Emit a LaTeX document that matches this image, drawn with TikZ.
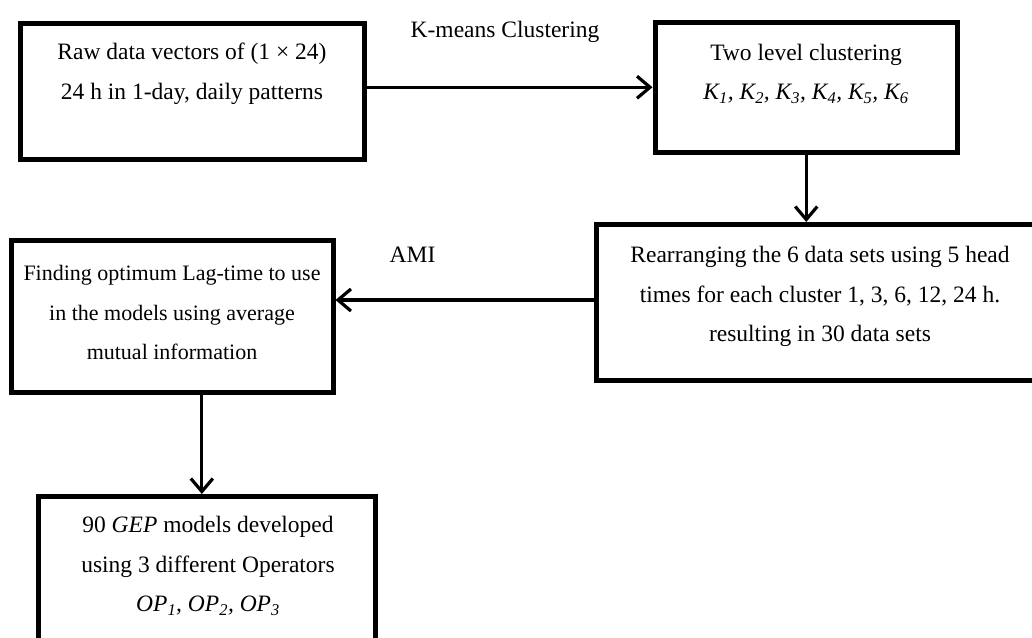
\documentclass[tikz,border=0pt]{standalone}
\usepackage{fontspec}
\setmainfont{Liberation Serif}
\usetikzlibrary{arrows.meta}
\tikzset{
  box/.style={draw=black, line width=5pt, rectangle, inner sep=0pt},
  txt/.style={align=center, font=\fontsize{23.5}{39.5}\selectfont, inner sep=0pt},
  txtsmall/.style={align=center, font=\fontsize{22}{39.5}\selectfont, inner sep=0pt},
  lbl/.style={font=\fontsize{23.5}{28}\selectfont, inner sep=0pt},
  arr/.style={line width=3.2pt, -{Straight Barb[length=13pt,width=22pt,line width=3.2pt]}}
}
\begin{document}
\begin{tikzpicture}[x=1pt,y=-1pt]
\useasboundingbox (0,0) rectangle (1032,637);
\clip (0,0) rectangle (1032,637);
% boxes
\node[box, minimum width=344pt, minimum height=136pt] (b1) at (192,91) {};
\node[box, minimum width=302.5pt, minimum height=129.5pt] (b2) at (806.25,87.25) {};
\node[box, minimum width=443.5pt, minimum height=156pt] (b3) at (818.25,302.5) {};
\node[box, minimum width=322pt, minimum height=152pt] (b4) at (172,316.5) {};
\node[box, minimum width=337.7pt, minimum height=163.5pt] (b5) at (206.85,578.25) {};
% texts
\node[txt] (t1) at (192,74) {Raw data vectors of (1 × 24)\\24 h in 1-day, daily patterns};
\node[txt] (t2) at (806,74) {Two level clustering\\\textit{K\textsubscript{1}, K\textsubscript{2}, K\textsubscript{3}, K\textsubscript{4}, K\textsubscript{5}, K\textsubscript{6}}};
\node[txt] (t3) at (820,296.5) {Rearranging the 6 data sets using 5 head\\times for each cluster 1, 3, 6, 12, 24 h.\\resulting in 30 data sets};
\node[txtsmall] (t4) at (172,312.5) {Finding optimum Lag-time to use\\in the models using average\\mutual information};
\node[txt] (t5) at (208,566) {90 \textit{GEP} models developed\\using 3 different Operators\\\textit{OP\textsubscript{1}, OP\textsubscript{2}, OP\textsubscript{3}}};
% labels
\node[lbl] (l1) at (505,32) {K-means Clustering};
\node[lbl] (l2) at (412.5,255) {AMI};
% connectors
\draw[arr] (b1.east |- b2.west) -- (b2.west);
\draw[arr] (b2.south) -- (b2.south |- b3.north);
\draw[arr] (b3.west |- 0,300) -- (b4.east |- 0,300);
\draw[arr] ([xshift=-5pt]b5.north |- b4.south) -- ([xshift=-5pt]b5.north);
\end{tikzpicture}
\end{document}
